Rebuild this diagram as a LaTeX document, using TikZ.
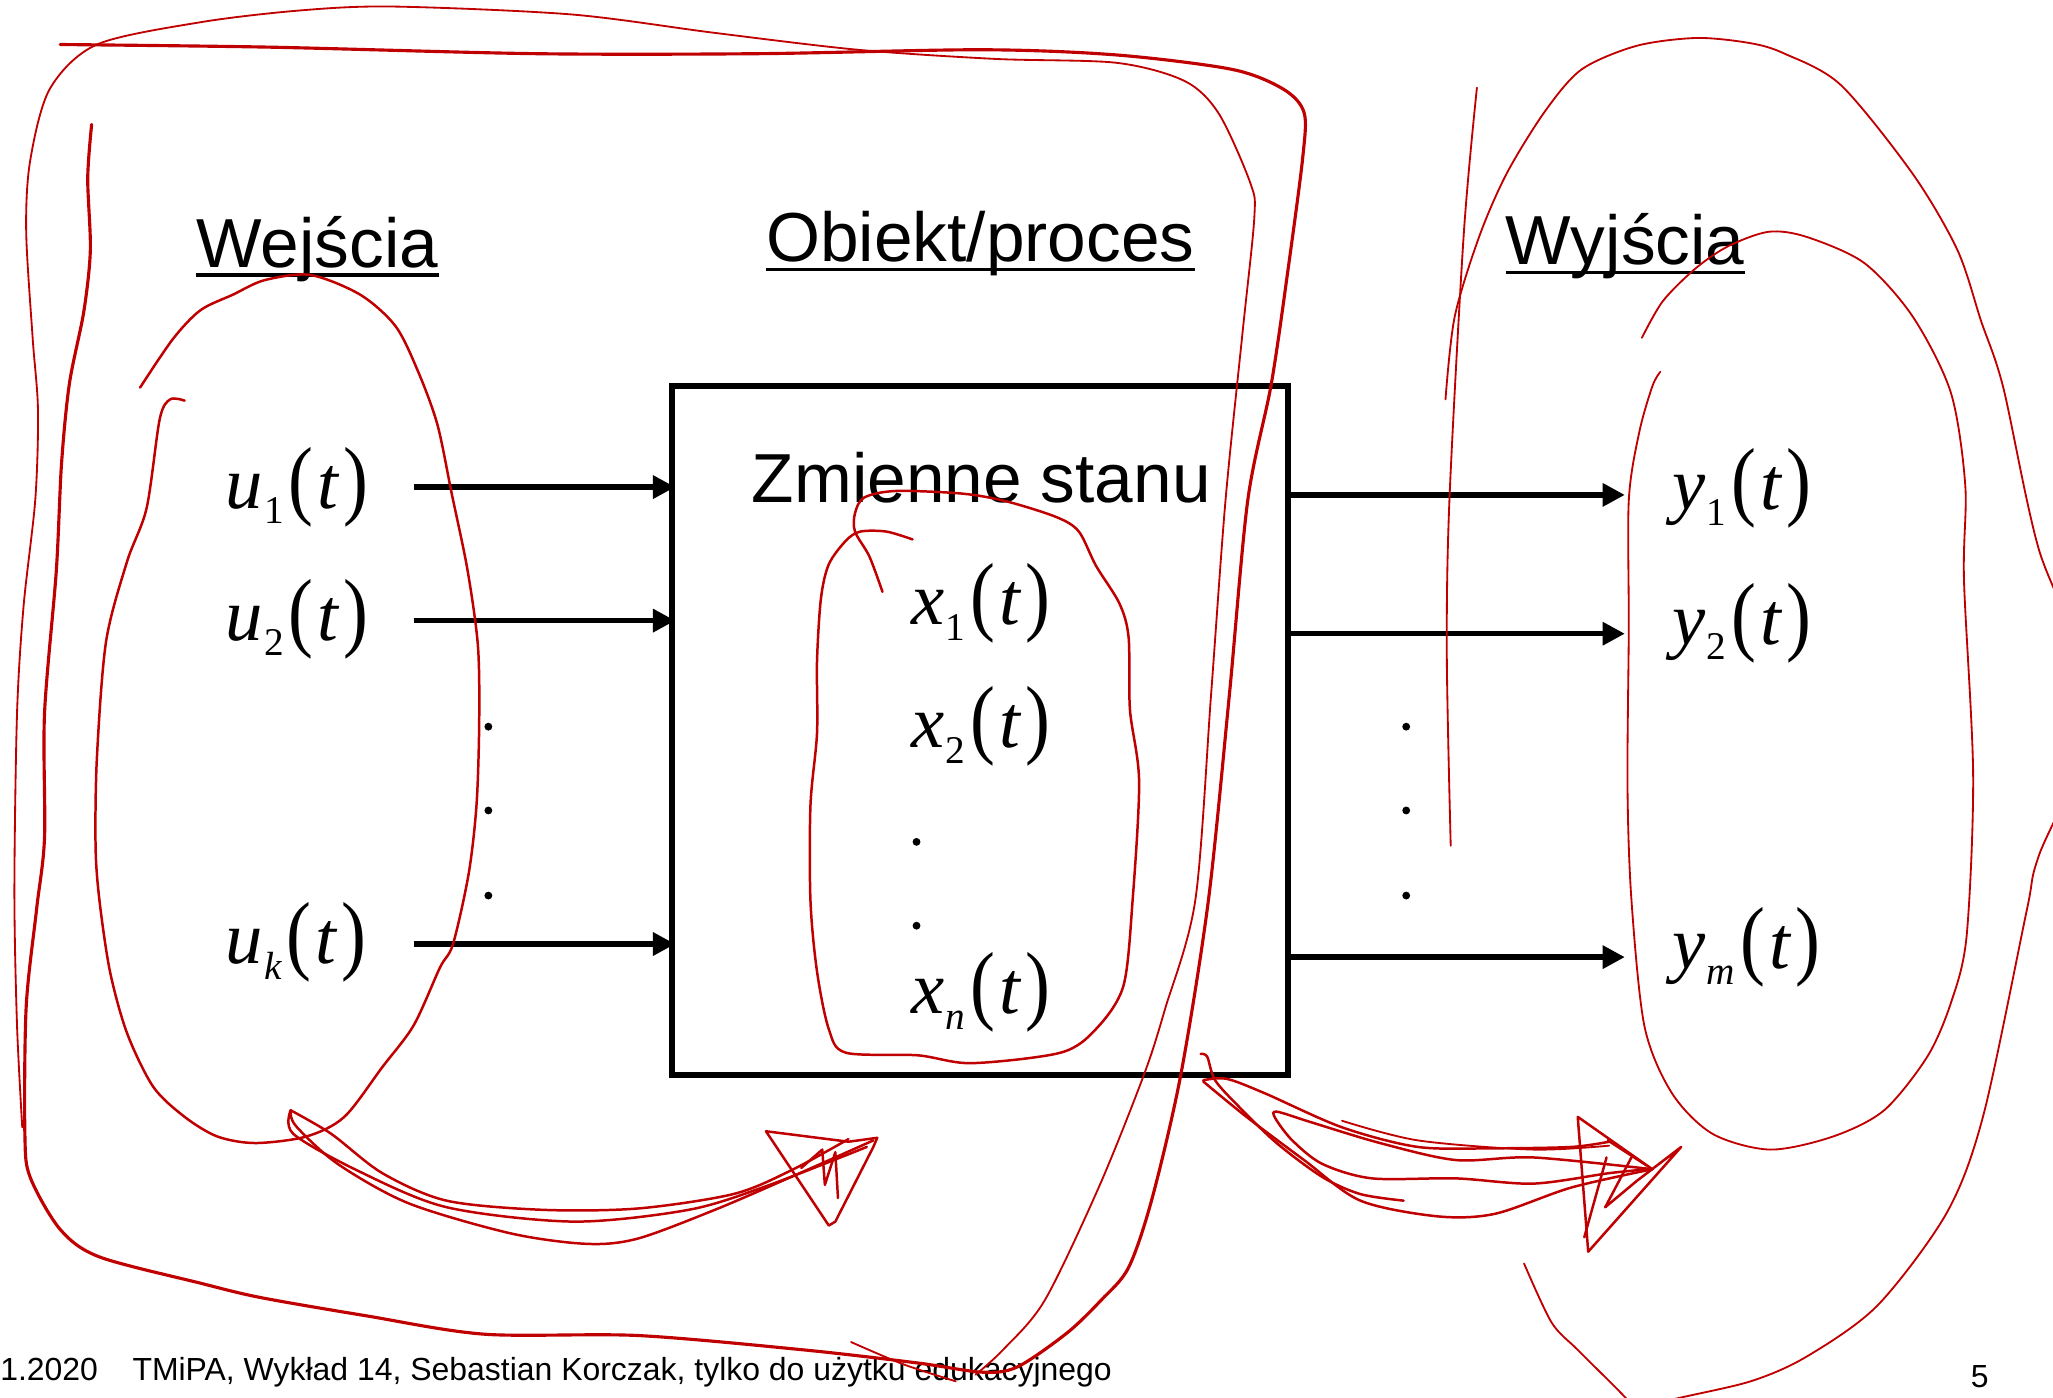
\documentclass[tikz,border=0pt]{standalone}
\usepackage{fontspec}
\setmainfont{Liberation Sans}
\newfontfamily\sigfont{Liberation Serif}
\usetikzlibrary{arrows.meta}
\definecolor{ink}{RGB}{192,0,0}
% signal label: variable, subscript, (t) with tall parentheses
\newcommand\sigvar[2]{{\sigfont\fontsize{57}{60}\selectfont\itshape #1\kern1pt\raisebox{-12pt}{\fontsize{30}{30}\selectfont #2}\kern4pt\upshape\scalebox{1}[1.18]{(}\kern3pt\itshape t\kern4pt\upshape\scalebox{1}[1.18]{)}}}
\tikzset{
  head/.style={inner sep=0pt, anchor=base west, font=\fontsize{53}{60}\selectfont},
  uline/.style={line width=2.5pt},
  foot/.style={inner sep=0pt, anchor=base west, font=\fontsize{24.4}{28}\selectfont},
  lab/.style={inner sep=0pt, anchor=base west},
  sig/.style={line width=4.2pt, -{Triangle[length=17pt,width=17pt]}},
  redthick/.style={draw=ink, line width=2.4pt, line cap=round, line join=round},
  redmid/.style={draw=ink, line width=1.9pt, line cap=round, line join=round},
  redthin/.style={draw=ink, line width=1.4pt, line cap=round, line join=round},
}
\begin{document}
\begin{tikzpicture}[x=1pt, y=-1pt]
\useasboundingbox (0,0) rectangle (1568,1067);
\fill[white] (0,0) rectangle (1568,1067);

% headings
\node[head] (wej) at (150,204) {Wejścia};
\node[head] (obj) at (585,200) {Obiekt/proces};
\node[head] (wyj) at (1150,202) {Wyjścia};
\foreach \h in {wej,obj,wyj}
  \draw[uline] ([yshift=-6pt]\h.base west) -- ([yshift=-6pt]\h.base east);

% process block
\node[draw, line width=4.6pt, minimum width=471pt, minimum height=526pt, inner sep=0pt] (box) at (748.5,558) {};
\node[head] (zm) at (574,384) {Zmienne stanu};

% inputs
\node[lab] (u1) at (172,388) {\sigvar{u}{\upshape 1}};
\node[lab] (u2) at (172,489) {\sigvar{u}{\upshape 2}};
\node[lab] (uk) at (172,736) {\sigvar{u}{k}};
\coordinate (i1) at (316,372);
\coordinate (i2) at (316,474);
\coordinate (ik) at (316,721);
\foreach \c in {i1,i2,ik}
  \draw[sig, shorten >=-5pt] (\c) -- (box.west |- \c);
\foreach \yy in {555,619,684} \fill (373,\yy) circle (3pt);

% state variables
\node[lab] (x1) at (696,477) {\sigvar{x}{\upshape 1}};
\node[lab] (x2) at (696,571) {\sigvar{x}{\upshape 2}};
\node[lab] (xn) at (696,774) {\sigvar{x}{n}};
\foreach \yy in {643,707} \fill (700,\yy) circle (3pt);

% outputs
\coordinate (o1) at (1241,378);
\coordinate (o2) at (1241,484);
\coordinate (om) at (1241,731);
\foreach \c in {o1,o2,om}
  \draw[sig] (box.east |- \c) -- (\c);
\foreach \yy in {555,619,684} \fill (1074,\yy) circle (3pt);
\node[lab] (y1) at (1277,389) {\sigvar{y}{\upshape 1}};
\node[lab] (y2) at (1277,492) {\sigvar{y}{\upshape 2}};
\node[lab] (ym) at (1277,740) {\sigvar{y}{m}};

% footer
\node[foot] (date) at (0,1054) {1.2020};
\node[foot] (cred) at (101,1054) {TMiPA, Wykład 14, Sebastian Korczak, tylko do użytku edukacyjnego};
\node[foot] (pg) at (1505,1060) {5};

% hand-drawn annotations
\begin{scope}
\clip (0,0) rectangle (1568,1067);
% outer loop around inputs and process
\draw[redthick] plot[smooth] coordinates {(46,34) (205,36) (409,41) (580,41) (750,38) (853,42) (941,53) (980,68) (996,86) (995,120) (984,204) (971,293) (953,382) (939,530) (923,687) (902,820) (880,915) (862,968) (841,993) (815,1018) (777,1044) (750,1048) (701,1041) (614,1031) (487,1020) (370,1019) (280,1005) (199,991) (153,980) (76,960) (46,939) (23,899) (19,866) (20,769) (28,694) (34,640) (34,545) (43,436) (47,354) (53,293) (64,238) (69,191) (67,136) (70,95)};
\draw[redthin] plot[smooth] coordinates {(17,861) (13,783) (11,681) (13,545) (18,463) (27,381) (29,313) (25,259) (20,177) (23,123) (38,68) (74,34) (153,17) (229,8) (300,5) (436,11) (545,25) (655,38) (760,45) (853,48) (905,62) (931,87) (955,140) (958,166) (949,254) (936,382) (925,530) (913,687) (890,770) (874,820) (840,905) (798,993) (766,1031) (745,1050)};
\draw[redthin] plot[smooth] coordinates {(650,1025) (690,1042) (730,1055)};
% loop around inputs
\draw[redmid] plot[smooth] coordinates {(107,296) (132,259) (153,237) (178,225) (202,214) (237,210) (275,225) (302,249) (319,283) (334,324) (345,377) (357,435) (365,493) (366,551) (364,614) (358,667) (346,721) (336,739) (316,783) (292,815) (263,853) (234,868) (195,873) (166,868) (141,853) (117,830) (97,789) (84,742) (76,688) (73,647) (74,579) (81,490) (97,429) (112,388) (122,320) (130,305) (141,306)};
% arrow from inputs into the process
\draw[redmid] plot[smooth] coordinates {(222,848) (253,866) (292,896) (341,917) (414,924) (487,923) (560,912) (604,894) (648,870)};
\draw[redmid] plot[smooth] coordinates {(222,848) (224,866) (273,894) (341,922) (438,933) (526,924) (585,906) (662,876)};
\draw[redmid] plot[smooth] coordinates {(222,848) (226,860) (258,889) (312,919) (390,942) (448,950) (487,946) (546,924) (604,899) (667,871)};
\draw[redmid] (633,936) -- (585,864) -- (648,872) -- (670,869) -- (667,876) -- (638,933) -- (633,936);
\draw[redmid] (612,892) -- (628,878) -- (630,905) -- (638,880) -- (640,915);
% loop around state variables
\draw[redmid] plot[smooth] coordinates {(697,412) (677,406) (657,406) (646,413) (633,431) (627,457) (624,505) (624,560) (619,615) (619,688) (624,742) (633,786) (646,804) (701,806) (742,812) (810,804) (837,786) (858,753) (865,688) (870,597) (863,542) (862,487) (855,461) (837,432) (824,406) (807,395) (769,383) (735,377) (684,375) (660,380) (653,392) (653,406) (664,425) (674,452)};
% arrow from the process to outputs
\draw[redmid] plot[smooth] coordinates {(919,825) (937,824) (966,835) (1025,861) (1083,876) (1142,877) (1200,876) (1229,872)};
\draw[redthin] plot[smooth] coordinates {(1025,856) (1083,871) (1171,878) (1229,875)};
\draw[redmid] plot[smooth] coordinates {(919,826) (952,853) (996,886) (1039,917) (1098,929) (1142,927) (1200,907) (1262,893)};
\draw[redmid] plot[smooth] coordinates {(917,805) (922,807) (928,825) (946,845) (975,873) (1010,899) (1039,912) (1072,917)};
\draw[redmid] plot[smooth] coordinates {(1262,893) (1171,884) (1112,886) (1054,873) (1001,857) (975,849) (974,854) (987,871) (1010,889) (1048,900) (1112,900) (1171,904) (1229,896) (1259,893)};
\draw[redmid] (1228,871) -- (1262,893) -- (1205,853) -- (1213,956) -- (1284,876) -- (1250,902) -- (1226,922);
\draw[redmid] (1227,884) -- (1210,945);
\draw[redmid] (1246,884) -- (1226,922);
% loops around outputs
\draw[redthin] plot[smooth] coordinates {(1254,258) (1270,230) (1295,205) (1320,188) (1351,177) (1380,181) (1424,201) (1461,242) (1490,300) (1501,371) (1500,443) (1507,592) (1502,715) (1490,766) (1472,807) (1439,848) (1400,868) (1352,878) (1308,866) (1277,835) (1256,784) (1246,687) (1243,600) (1244,480) (1244,382) (1252,330) (1262,295) (1268,284)};
\draw[redthin] plot[smooth] coordinates {(1104,305) (1111,242) (1130,180) (1151,132) (1180,85) (1208,53) (1250,35) (1296,29) (1337,33) (1363,41) (1406,65) (1461,133) (1495,191) (1513,245) (1530,296) (1557,419) (1600,540) (1557,654) (1548,695) (1515,851) (1487,926) (1434,997) (1380,1036) (1337,1055) (1277,1069) (1240,1080)};
\draw[redthin] plot[smooth] coordinates {(1164,965) (1185,1010) (1205,1031) (1241,1067) (1255,1085)};
\draw[redthin] plot[smooth] coordinates {(1128,67) (1118,178) (1107,382) (1105,500) (1108,646)};
\end{scope}
\end{tikzpicture}
\end{document}
